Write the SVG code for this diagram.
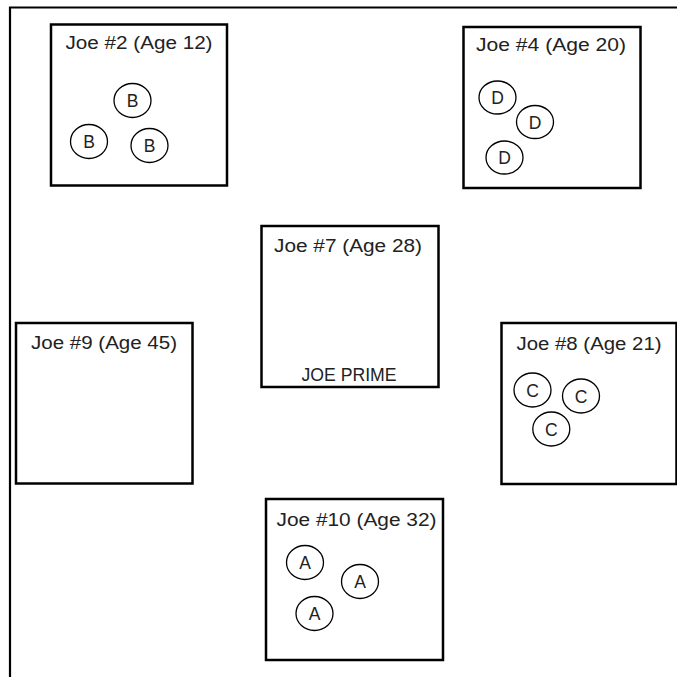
<svg xmlns="http://www.w3.org/2000/svg" width="677" height="677" viewBox="0 0 677 677">
<style>
.box{fill:#fff;stroke:#000;stroke-width:2.5}
.frame{fill:none;stroke:#000;stroke-width:2.2}
.c{fill:#fff;stroke:#000;stroke-width:1.3}
.t{font-family:"Liberation Sans",Arial,sans-serif;font-size:17.5px;fill:#222;text-anchor:middle}
.l{font-family:"Liberation Sans",Arial,sans-serif;font-size:17.5px;fill:#222;text-anchor:middle}
</style>
<rect width="677" height="677" fill="#fff"/>
<path class="frame" d="M10,677 V7.5 H677"/>
<g id="connectors"/>
<g id="joe2">
<rect class="box" x="51" y="24.5" width="176" height="161"/>
<text class="t" x="139" y="48.5" textLength="147" lengthAdjust="spacingAndGlyphs">Joe #2 (Age 12)</text>
<ellipse class="c" cx="132.5" cy="100.5" rx="18.5" ry="17"/><text class="l" x="132.5" y="107">B</text>
<ellipse class="c" cx="89" cy="141.5" rx="18.5" ry="17"/><text class="l" x="89" y="148">B</text>
<ellipse class="c" cx="149.5" cy="145.5" rx="18.5" ry="17"/><text class="l" x="149.5" y="152">B</text>
</g>
<g id="joe4">
<rect class="box" x="463.5" y="27" width="177" height="161"/>
<text class="t" x="551" y="50.5" textLength="150" lengthAdjust="spacingAndGlyphs">Joe #4 (Age 20)</text>
<ellipse class="c" cx="497.5" cy="97.5" rx="18.5" ry="16.5"/><text class="l" x="497.5" y="104">D</text>
<ellipse class="c" cx="535" cy="122" rx="18.5" ry="16.5"/><text class="l" x="535" y="128.5">D</text>
<ellipse class="c" cx="504.5" cy="157.5" rx="18.5" ry="16.5"/><text class="l" x="504.5" y="164">D</text>
</g>
<g id="joe7">
<rect class="box" x="261.5" y="226" width="177" height="161"/>
<text class="t" x="348" y="251.5" textLength="148" lengthAdjust="spacingAndGlyphs">Joe #7 (Age 28)</text>
<text class="t" x="349" y="381" textLength="95" lengthAdjust="spacingAndGlyphs" style="font-size:19px">JOE PRIME</text>
</g>
<g id="joe9">
<rect class="box" x="16" y="323" width="176.5" height="160.5"/>
<text class="t" x="104" y="349" textLength="146" lengthAdjust="spacingAndGlyphs">Joe #9 (Age 45)</text>
</g>
<g id="joe8">
<rect class="box" x="501.5" y="323" width="175" height="161"/>
<text class="t" x="589" y="350" textLength="145" lengthAdjust="spacingAndGlyphs">Joe #8 (Age 21)</text>
<ellipse class="c" cx="532.5" cy="390" rx="18.5" ry="17"/><text class="l" x="532.5" y="396.5">C</text>
<ellipse class="c" cx="581" cy="396" rx="18.5" ry="17"/><text class="l" x="581" y="402.5">C</text>
<ellipse class="c" cx="551.3" cy="429" rx="18.5" ry="17"/><text class="l" x="551.3" y="435.5">C</text>
</g>
<g id="joe10">
<rect class="box" x="266" y="499" width="177" height="161"/>
<text class="t" x="356.5" y="525.5" textLength="160" lengthAdjust="spacingAndGlyphs">Joe #10 (Age 32)</text>
<ellipse class="c" cx="305" cy="562.5" rx="18.5" ry="17"/><text class="l" x="305" y="569">A</text>
<ellipse class="c" cx="360" cy="581.5" rx="18.5" ry="17"/><text class="l" x="360" y="588">A</text>
<ellipse class="c" cx="314.5" cy="613.5" rx="18.5" ry="17"/><text class="l" x="314.5" y="620">A</text>
</g>
</svg>
